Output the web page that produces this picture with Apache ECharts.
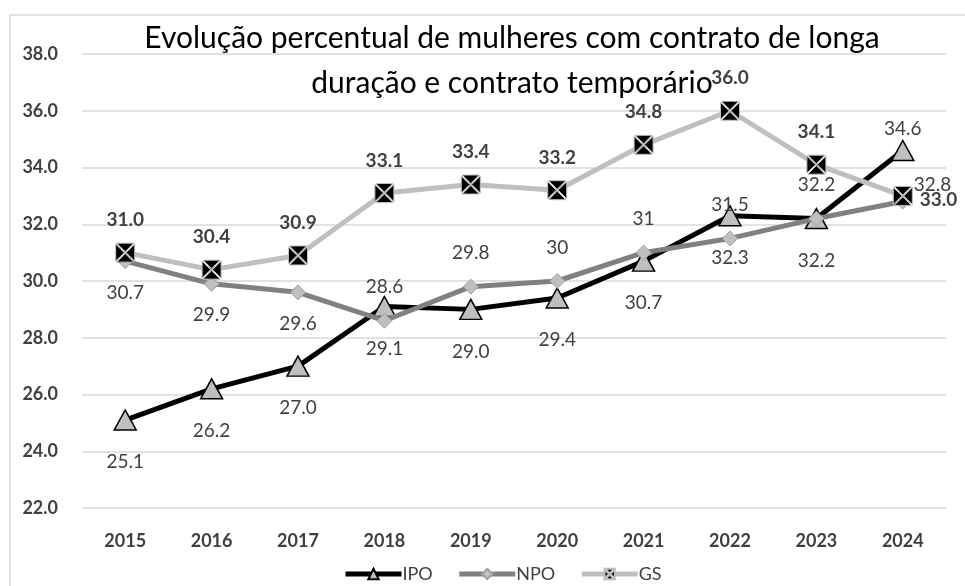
<!DOCTYPE html>
<html><head><meta charset="utf-8">
<script src="https://cdn.jsdelivr.net/npm/echarts@6/dist/echarts.min.js"></script>
<style>html,body{margin:0;padding:0;background:#fff}#c{width:965px;height:586px}</style>
</head><body><div id="c"></div>
<script>
const categories = ['2015','2016','2017','2018','2019','2020','2021','2022','2023','2024'];
const ipo = [25.1, 26.2, 27.0, 29.1, 29.0, 29.4, 30.7, 32.3, 32.2, 34.6];
const npo = [30.7, 29.9, 29.6, 28.6, 29.8, 30, 31, 31.5, 32.2, 32.8];
const gs  = [31.0, 30.4, 30.9, 33.1, 33.4, 33.2, 34.8, 36.0, 34.1, 33.0];
const yTicks = {min: 22, max: 38, interval: 2};
const titleText = 'Evolução percentual de mulheres com contrato de longa\nduração e contrato temporário';

const FONT = 'Lato, sans-serif';
const lab = {fontSize: 19, color: '#404040', fontFamily: FONT};
const xSquare = 'path://M1,0L19,0L10,9Z M20,1L20,19L11,10Z M19,20L1,20L10,11Z M0,19L0,1L9,10Z';

const ipoData = ipo.map((v, i) => ({
  value: v,
  label: i === ipo.length - 1 ? {position: 'top', distance: 1} : {position: 'bottom', distance: 22}
}));
const npoData = npo.map((v, i) => ({
  value: v,
  label: i < 3 ? {position: 'bottom', distance: 14}
       : i === npo.length - 1 ? {position: 'right', distance: 3, offset: [0, -17]}
       : {position: 'top', distance: 16}
}));
const gsData = gs.map((v, i) => ({
  value: v,
  label: i === gs.length - 1 ? {position: 'right', distance: 7, offset: [0, 4]} : {position: 'top', distance: 13}
}));

const chart = echarts.init(document.getElementById('c'), null, {renderer: 'canvas'});
chart.setOption({
  animation: false,
  backgroundColor: '#fff',
  title: {show: false, text: titleText},
  graphic: [
    {type: 'rect', shape: {x: 10, y: 15, width: 970, height: 600}, style: {fill: 'none', stroke: '#d9d9d9', lineWidth: 1.5}, z: -1},
    {type: 'text', x: 512, y: 16, z: 10,
     style: {text: titleText, fontFamily: FONT, fontSize: 30, fill: '#000', align: 'center', verticalAlign: 'top', lineHeight: 45}}
  ],
  legend: {
    bottom: -2, left: 338, itemWidth: 56, itemHeight: 13, itemGap: 24,
    lineStyle: {width: 5},
    textStyle: {fontFamily: FONT, fontSize: 18, color: '#404040', padding: [0,0,0,-4]},
    data: ['IPO','NPO','GS']
  },
  grid: {left: 82, right: 19, top: 54, bottom: 78},
  xAxis: {
    type: 'category', data: categories, boundaryGap: true,
    axisLine: {show: false}, axisTick: {show: false},
    axisLabel: {fontFamily: FONT, fontSize: 18, fontWeight: 'bold', color: '#404040', margin: 24}
  },
  yAxis: {
    type: 'value', min: yTicks.min, max: yTicks.max, interval: yTicks.interval,
    axisLine: {show: false}, axisTick: {show: false},
    splitLine: {lineStyle: {color: '#d9d9d9', width: 1.5}},
    axisLabel: {fontFamily: FONT, fontSize: 18, fontWeight: 'bold', color: '#404040', margin: 24, formatter: v => v.toFixed(1)}
  },
  series: [
    {name: 'IPO', type: 'line', data: ipoData, symbol: 'triangle', symbolSize: [22, 20],
     lineStyle: {color: '#000', width: 5}, itemStyle: {color: '#bfbfbf', borderColor: '#000', borderWidth: 1.5},
     label: Object.assign({show: true, formatter: p => p.value.toFixed(1)}, lab), z: 2},
    {name: 'NPO', type: 'line', data: npoData, symbol: 'diamond', symbolSize: 15,
     lineStyle: {color: '#808080', width: 5}, itemStyle: {color: '#bfbfbf', borderColor: '#a0a0a0', borderWidth: 1},
     label: Object.assign({show: true, formatter: p => String(p.value)}, lab), z: 3},
    {name: 'GS', type: 'line', data: gsData, symbol: xSquare, symbolSize: 19,
     lineStyle: {color: '#bfbfbf', width: 5}, itemStyle: {color: '#000', borderColor: '#bfbfbf', borderWidth: 1},
     label: Object.assign({show: true, formatter: p => p.value.toFixed(1), fontWeight: 'bold'}, lab), z: 4}
  ]
});
</script></body></html>
